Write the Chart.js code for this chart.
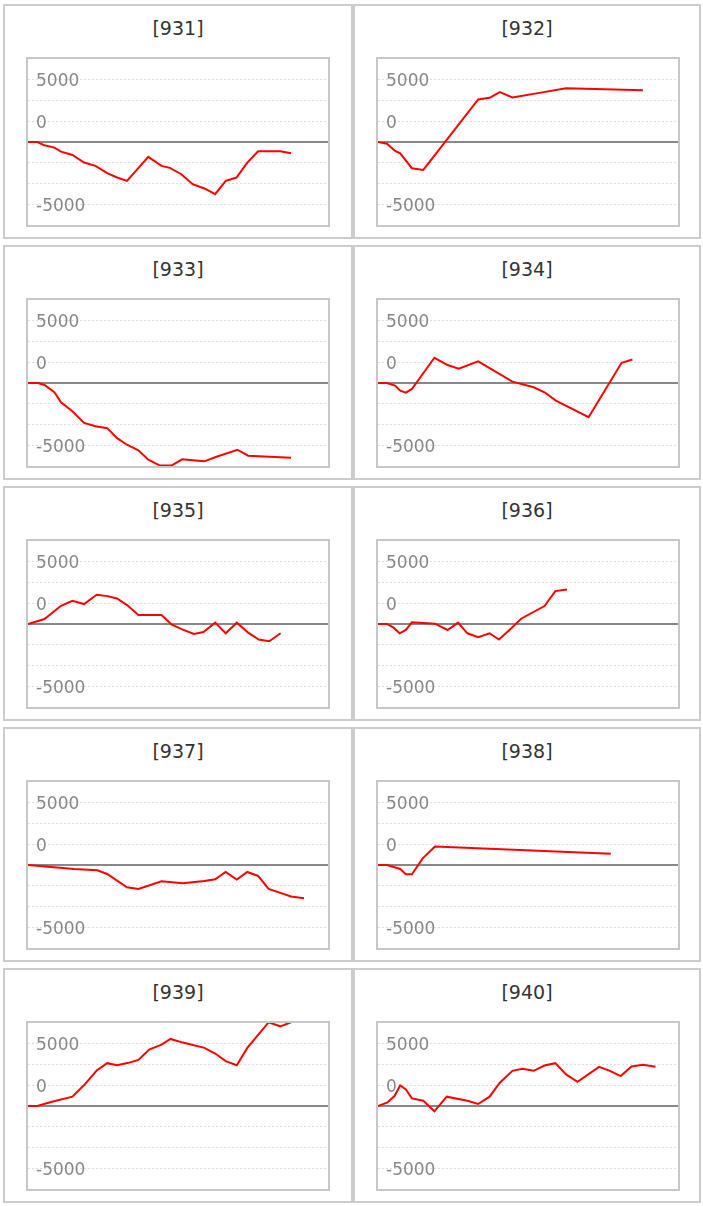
<!DOCTYPE html>
<html>
<head>
<meta charset="utf-8">
<script src="https://cdn.jsdelivr.net/npm/chart.js@4"></script>
<style>
  body { margin: 0; background: #fff; font-family: "DejaVu Sans", Verdana, sans-serif; }
  .panel { position: absolute; box-sizing: border-box; height: 235px; border: 2px solid #ccc; background: #fff; }
  .title { position: absolute; left: 0; right: 0; top: 8px; line-height: 28px; text-align: center; font-size: 19px; color: #333; }
  .box { position: absolute; left: 21px; top: 51px; width: 300px; height: 166px; border: 2px solid #c8c8c8; }
  canvas { display: block; }
</style>
</head>
<body>
<script>
// panel titles
const panelNames = ['[931]', '[932]', '[933]', '[934]', '[935]', '[936]', '[937]', '[938]', '[939]', '[940]'];

// x = position along the period (0..100), y = running value
const x931 = [0, 3.1, 5.5, 8.8, 11.0, 14.8, 18.7, 22.5, 26.4, 29.7, 33.0, 40.1, 44.5, 47.3, 51.1, 54.9, 58.8, 62.4, 65.9, 69.5, 73.1, 76.7, 84.1, 87.7];
const y931 = [0, 0, -400, -680, -1160, -1560, -2480, -2880, -3760, -4280, -4680, -1800, -2880, -3120, -3880, -5080, -5600, -6280, -4680, -4280, -2480, -1120, -1120, -1360];

const x932 = [0, 3.0, 5.7, 7.4, 11.3, 15.1, 33.4, 37.2, 40.6, 44.8, 53.8, 62.7, 88.3];
const y932 = [0, -200, -1080, -1360, -3160, -3360, 5120, 5320, 6000, 5360, 5920, 6480, 6240];

const x933 = [0, 3.3, 5.5, 8.8, 11.0, 14.8, 18.7, 22.5, 26.4, 29.7, 33.0, 36.8, 40.1, 44.0, 47.8, 51.4, 54.9, 58.8, 62.6, 69.8, 73.4, 87.7];
const y933 = [0, 0, -240, -1120, -2320, -3400, -4800, -5200, -5440, -6640, -7440, -8120, -9240, -9950, -9950, -9200, -9320, -9440, -8920, -8040, -8760, -9000];

const x934 = [0, 3.0, 5.7, 7.4, 9.3, 11.3, 18.8, 23.2, 26.9, 33.4, 44.8, 51.9, 55.5, 59.3, 70.2, 81.2, 84.8];
const y934 = [0, 0, -320, -920, -1160, -720, 3040, 2160, 1720, 2600, 160, -520, -1120, -2120, -4120, 2440, 2840];

const x935 = [0, 5.5, 11.0, 14.8, 18.7, 22.9, 26.4, 29.7, 33.0, 36.8, 44.5, 47.8, 51.4, 55.3, 58.5, 62.4, 65.9, 69.6, 73.4, 76.9, 80.4, 84.2];
const y935 = [0, 600, 2200, 2800, 2400, 3520, 3360, 3080, 2280, 1080, 1080, -40, -640, -1200, -960, 160, -1120, 160, -1040, -1880, -2080, -1120];

const x936 = [0, 3.0, 5.2, 7.2, 9.3, 11.3, 19.0, 23.2, 26.7, 29.8, 33.4, 37.2, 40.3, 44.1, 47.7, 55.5, 59.1, 63.0];
const y936 = [0, 0, -440, -1120, -720, 200, 40, -720, 160, -1120, -1600, -1120, -1880, -640, 640, 2160, 3960, 4160];

const x937 = [0, 7.7, 15.4, 23.1, 26.4, 33.0, 36.8, 44.5, 51.6, 58.8, 62.4, 65.9, 69.6, 73.1, 76.7, 80.2, 84.1, 87.7, 92.0];
const y937 = [0, -240, -480, -640, -1080, -2680, -2880, -1960, -2200, -1920, -1720, -840, -1760, -840, -1320, -2880, -3360, -3800, -4000];

const x938 = [0, 3.0, 7.4, 9.3, 11.3, 14.9, 19.0, 77.6];
const y938 = [0, 0, -480, -1120, -1120, 800, 2240, 1360];

const x939 = [0, 3.1, 7.7, 14.8, 18.7, 22.9, 26.4, 29.7, 33.5, 36.8, 40.4, 44.5, 47.5, 51.6, 58.8, 62.4, 65.9, 69.6, 73.1, 80.2, 84.1, 87.7];
const y939 = [0, 0, 480, 1120, 2520, 4280, 5160, 4920, 5200, 5560, 6800, 7400, 8080, 7640, 7000, 6320, 5400, 4920, 7000, 10080, 9600, 10080];

const x940 = [0, 3.0, 5.5, 7.4, 9.3, 11.3, 15.1, 18.8, 22.9, 29.8, 33.4, 37.2, 40.6, 44.8, 48.1, 51.9, 55.5, 59.1, 62.7, 66.5, 73.7, 77.3, 80.9, 84.5, 88.3, 92.5];
const y940 = [0, 400, 1200, 2480, 2000, 920, 640, -640, 1120, 640, 240, 1120, 2800, 4240, 4480, 4240, 4880, 5160, 3800, 2920, 4720, 4240, 3600, 4760, 4960, 4720];

const panelX = [x931, x932, x933, x934, x935, x936, x937, x938, x939, x940];
const panelY = [y931, y932, y933, y934, y935, y936, y937, y938, y939, y940];

// zero reference line
const zeroX = [0, 100];
const zeroY = [0, 0];

// y tick labels, as they sit in the picture
const tickValues = [7500, 2500, -7500];
const tickLabels = ['5000', '0', '-5000'];

panelNames.forEach((name, i) => {
  const col = i % 2;
  const row = Math.floor(i / 2);

  const panel = document.createElement('div');
  panel.className = 'panel';
  panel.style.left = (col ? 353 : 3) + 'px';
  panel.style.width = (col ? 348 : 350) + 'px';
  panel.style.top = (4 + row * 241) + 'px';

  const title = document.createElement('div');
  title.className = 'title';
  title.textContent = name;
  panel.appendChild(title);

  const box = document.createElement('div');
  box.className = 'box';
  const canvas = document.createElement('canvas');
  canvas.width = 300;
  canvas.height = 166;
  box.appendChild(canvas);
  panel.appendChild(box);
  document.body.appendChild(panel);

  const xs = panelX[i];
  const ys = panelY[i];

  new Chart(canvas, {
    type: 'line',
    data: {
      datasets: [
        {
          data: xs.map((x, k) => ({ x: x, y: ys[k] })),
          borderColor: '#ff0000',
          borderWidth: 2,
          pointRadius: 0,
          tension: 0,
          fill: false
        },
        {
          data: zeroX.map((x, k) => ({ x: x, y: zeroY[k] })),
          borderColor: '#888888',
          borderWidth: 2,
          pointRadius: 0,
          fill: false
        }
      ]
    },
    options: {
      responsive: false,
      animation: false,
      devicePixelRatio: 1,
      layout: { padding: 0 },
      plugins: {
        legend: { display: false },
        tooltip: { enabled: false }
      },
      scales: {
        x: { type: 'linear', min: 0, max: 100, display: false },
        y: {
          min: -10000,
          max: 10000,
          afterFit: s => { s.width = 0; s.paddingTop = 0; s.paddingBottom = 0; },
          grid: {
            color: c => Math.abs(c.tick.value) >= 10000 ? 'rgba(0,0,0,0)' : '#dddddd',
            lineWidth: 1,
            drawTicks: false
          },
          border: { display: false, dash: [2, 2] },
          ticks: {
            stepSize: 2500,
            autoSkip: false,
            mirror: true,
            padding: 8,
            labelOffset: 2,
            color: '#888888',
            font: { family: 'DejaVu Sans', size: 17 },
            callback: v => {
              const k = tickValues.indexOf(v);
              return k < 0 ? '' : tickLabels[k];
            }
          }
        }
      }
    }
  });
});
</script>
</body>
</html>
